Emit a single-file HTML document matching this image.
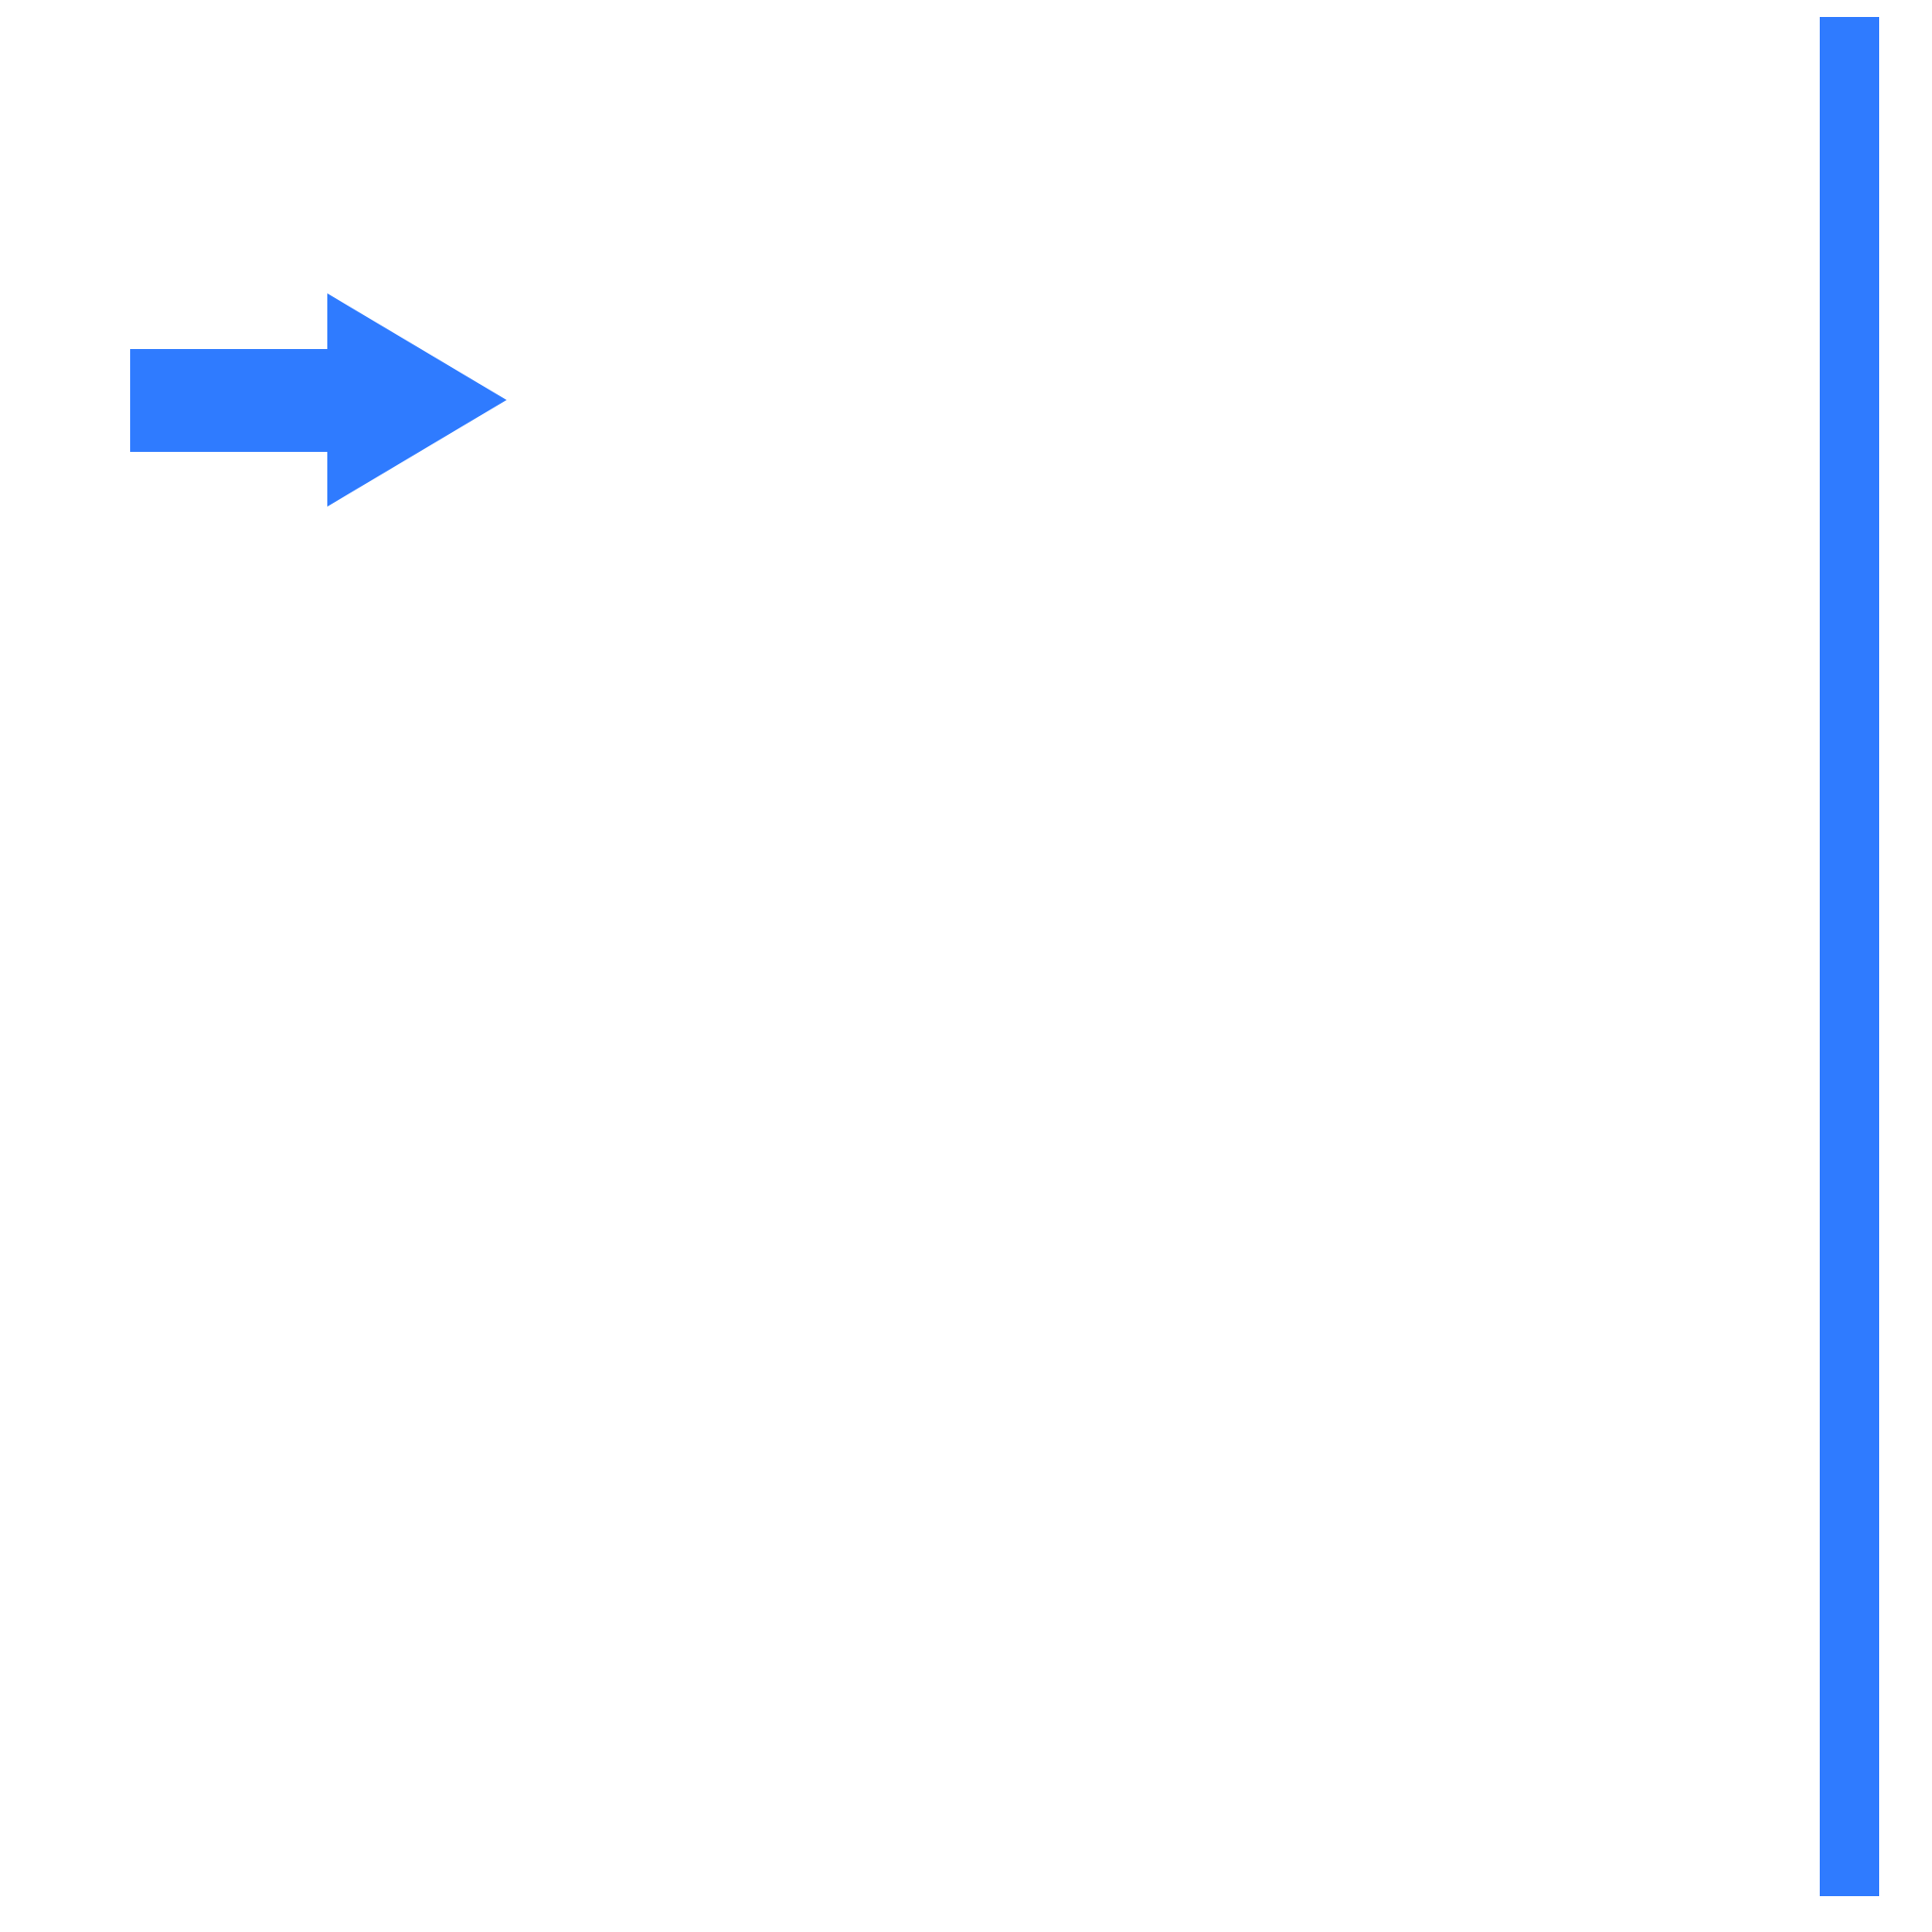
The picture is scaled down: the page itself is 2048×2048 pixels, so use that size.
<!DOCTYPE html>
<html>
<head>
<meta charset="utf-8">
<style>
html,body{margin:0;padding:0;background:#fff;width:2048px;height:2048px;overflow:hidden;}
svg{display:block;}
</style>
</head>
<body>
<svg width="2048" height="2048" viewBox="0 0 2048 2048">
  <rect x="0" y="0" width="2048" height="2048" fill="#ffffff"/>
  <polygon points="138,370 347,370 347,311 537,424 347,537 347,479 138,479" fill="#2f7bff"/>
  <rect x="1929" y="18" width="63" height="1992" fill="#2f7bff"/>
</svg>
</body>
</html>
